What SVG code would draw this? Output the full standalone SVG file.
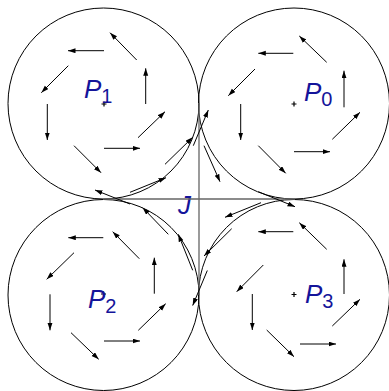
<svg xmlns="http://www.w3.org/2000/svg" width="389" height="391" viewBox="0 0 389 391">
<style>
.c{fill:none;stroke:#000;stroke-width:1}
.ax{stroke:#666;stroke-width:1.3;fill:none}
.a{stroke:#000;stroke-width:1;fill:none;marker-end:url(#ah)}
.lb{font-family:"Liberation Sans",Arial,sans-serif;font-size:26px;fill:#14149a}
.it{font-style:italic}
.sb{font-size:20px}
.pl{stroke:#000;stroke-width:1.2}
</style>
<defs>
<marker id="ah" markerUnits="userSpaceOnUse" markerWidth="9" markerHeight="6" refX="7.5" refY="2.5" orient="auto">
<path d="M0,0 L7.5,2.5 L0,5 Z" fill="#000"/>
</marker>
</defs>
<rect width="389" height="391" fill="#fff"/>
<g id="P1">
<circle class="c" cx="103.5" cy="103.5" r="95.5"/>
<path class="pl" d="M101.5,104 h5 M104,101.5 v5"/>
<text class="lb" x="84" y="98"><tspan class="it">P</tspan><tspan class="sb" dy="5">1</tspan></text>
</g>
<g id="P0">
<circle class="c" cx="294" cy="103.5" r="95.5"/>
<path class="pl" d="M291.5,104 h5 M294,101.5 v5"/>
<text class="lb" x="304" y="100.5"><tspan class="it">P</tspan><tspan class="sb" dy="5.5">0</tspan></text>
</g>
<g id="P2">
<circle class="c" cx="103.5" cy="295" r="95.5"/>
<path class="pl" d="M101,294 h5 M103.5,291.5 v5"/>
<text class="lb" x="88" y="308"><tspan class="it">P</tspan><tspan class="sb" dy="5">2</tspan></text>
</g>
<g id="P3">
<circle class="c" cx="294" cy="295" r="95.5"/>
<path class="pl" d="M291.5,294.5 h5 M294,292 v5"/>
<text class="lb" x="305" y="302.5"><tspan class="it">P</tspan><tspan class="sb" dy="5.5">3</tspan></text>
</g>
<g id="J">
<text class="lb it" x="178" y="213.5">J</text>
</g>
<g id="connectors">
<path class="ax" d="M103,199 H295 M199,103 V295"/>
<path class="a" d="M104,50.7 L68,50.7"/>
<path class="a" d="M136.7,60 L110,32.7"/>
<path class="a" d="M145.7,104 L145.7,68.3"/>
<path class="a" d="M138,137.7 L165,111.7"/>
<path class="a" d="M104,148.3 L140,148.3"/>
<path class="a" d="M74,145.7 L101,172.7"/>
<path class="a" d="M47.3,104 L47.3,140"/>
<path class="a" d="M68.3,65.7 L41.3,92.7"/>
<path class="a" d="M165,164.3 L192.7,137.3"/>
<path class="a" d="M130,192.3 L166,177.7"/>
<path class="a" d="M130,204 L95,190"/>
<path class="a" d="M193.3,145.7 L208.3,110"/>
<path class="a" d="M293.3,53.3 L258.3,53.3"/>
<path class="a" d="M326.7,62.3 L299.3,36"/>
<path class="a" d="M344,107.3 L344,70.7"/>
<path class="a" d="M332.3,139.3 L360,112.3"/>
<path class="a" d="M294,151.7 L330,151.7"/>
<path class="a" d="M258.3,145.7 L285.7,173.3"/>
<path class="a" d="M240.7,104 L240.7,140"/>
<path class="a" d="M255,69 L228.3,95.7"/>
<path class="a" d="M204,145.7 L220,181.7"/>
<path class="a" d="M258.3,191.7 L295,206.7"/>
<path class="a" d="M293.3,231.7 L258.3,231.7"/>
<path class="a" d="M326.7,249.3 L299.3,222.7"/>
<path class="a" d="M344,294 L344,259.3"/>
<path class="a" d="M332.3,326 L360,299.3"/>
<path class="a" d="M300,344 L336,344"/>
<path class="a" d="M266.7,330 L294,356.7"/>
<path class="a" d="M252.3,294 L252.3,330"/>
<path class="a" d="M263.3,265 L236.7,291.7"/>
<path class="a" d="M261,202.7 L225,217.3"/>
<path class="a" d="M231.7,228.7 L204,256"/>
<path class="a" d="M207.3,270.5 L192.7,305.5"/>
<path class="a" d="M103.3,237.7 L68.3,237.7"/>
<path class="a" d="M139.3,258.7 L112.7,231.7"/>
<path class="a" d="M154.3,293.7 L154.3,257.7"/>
<path class="a" d="M138.3,330.3 L165.7,303.7"/>
<path class="a" d="M104,341 L140,341"/>
<path class="a" d="M71,332.7 L98.7,359.3"/>
<path class="a" d="M50,294.3 L50,330.3"/>
<path class="a" d="M74,252.7 L46.7,279.3"/>
<path class="a" d="M168.3,234.3 L142.7,207.7"/>
<path class="a" d="M192.7,270.3 L178.3,234.3"/>
</g>
</svg>
